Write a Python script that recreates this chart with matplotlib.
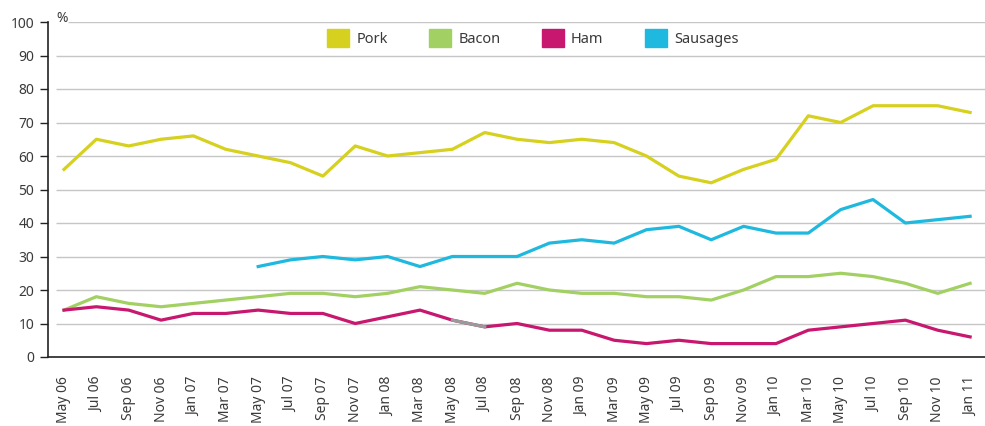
import matplotlib
matplotlib.use("Agg")
import matplotlib.pyplot as plt
import matplotlib.patches as mpatches

# dados (%)
meses = ["May 06", "Jul 06", "Sep 06", "Nov 06", "Jan 07", "Mar 07", "May 07", "Jul 07",
         "Sep 07", "Nov 07", "Jan 08", "Mar 08", "May 08", "Jul 08", "Sep 08", "Nov 08",
         "Jan 09", "Mar 09", "May 09", "Jul 09", "Sep 09", "Nov 09", "Jan 10", "Mar 10",
         "May 10", "Jul 10", "Sep 10", "Nov 10", "Jan 11"]
pork = [56, 65, 63, 65, 66, 62, 60, 58, 54, 63, 60, 61, 62, 67, 65, 64, 65, 64, 60, 54,
        52, 56, 59, 72, 70, 75, 75, 75, 73]
bacon = [14, 18, 16, 15, 16, 17, 18, 19, 19, 18, 19, 21, 20, 19, 22, 20, 19, 19, 18, 18,
         17, 20, 24, 24, 25, 24, 22, 19, 22]
ham = [14, 15, 14, 11, 13, 13, 14, 13, 13, 10, 12, 14, 11, 9, 10, 8, 8, 5, 4, 5,
       4, 4, 4, 8, 9, 10, 11, 8, 6]
# sausages comeca em May 07
sausages = [27, 29, 30, 29, 30, 27, 30, 30, 30, 34, 35, 34, 38, 39, 35, 39, 37, 37, 44,
            47, 40, 41, 42]
series = ["Pork", "Bacon", "Ham", "Sausages"]
cores = ["#d6d01e", "#a2d063", "#c8176e", "#1fb8de"]

plt.rcParams["font.family"] = ["Noto Sans", "DejaVu Sans"]
cor_texto = "#3a3a3a"

fig = plt.figure(figsize=(9.85, 4.26), dpi=100)
ax = fig.add_axes([48 / 985, 1 - 357 / 426, 937 / 985, 335 / 426])

x = list(range(len(meses)))
ax.set_xlim(-0.494, 28.46)
ax.set_ylim(0, 100)

# linhas de grade
for v in range(10, 101, 10):
    inicio = 0.12 if v == 100 else -0.25
    ax.hlines(v, inicio, 28.46, color="#c6c6c6", lw=1.0, zorder=1)

lw = 2.3
ax.plot(x, pork, color=cores[0], lw=lw, zorder=3)
ax.plot(x, bacon, color=cores[1], lw=lw, zorder=3)
ax.plot(x, ham, color=cores[2], lw=lw, zorder=3)
ax.plot(x[12:14], ham[12:14], color="#9a9a9a", lw=lw, zorder=4)
ax.plot(x[6:], sausages, color=cores[3], lw=lw, zorder=3)

ax.spines["top"].set_visible(False)
ax.spines["right"].set_visible(False)
ax.spines["left"].set_color("#222222")
ax.spines["bottom"].set_color("#222222")
ax.spines["left"].set_linewidth(1.2)
ax.spines["bottom"].set_linewidth(1.2)

ax.set_yticks(range(0, 101, 10))
ax.tick_params(axis="y", length=6, width=1.0, color="#222222", labelsize=10,
               labelcolor=cor_texto, pad=4)
ax.set_xticks(x)
ax.set_xticklabels(meses, rotation=90)
ax.tick_params(axis="x", length=0, labelsize=10, labelcolor=cor_texto, pad=14)

fig.text(56 / 985, 1 - 18 / 426, "%", fontsize=10, color=cor_texto, va="center", ha="left")

handles = [mpatches.Patch(color=c, label=s) for s, c in zip(series, cores)]
leg = fig.legend(handles=handles, loc="upper left", bbox_to_anchor=(327 / 985, 1 - 29 / 426),
                 ncol=4, frameon=False, fontsize=10.5, handlelength=1.5, handleheight=1.5,
                 handletextpad=0.5, columnspacing=2.85, borderpad=0, borderaxespad=0)
for t in leg.get_texts():
    t.set_color(cor_texto)

fig.savefig("out.png", dpi=100)
